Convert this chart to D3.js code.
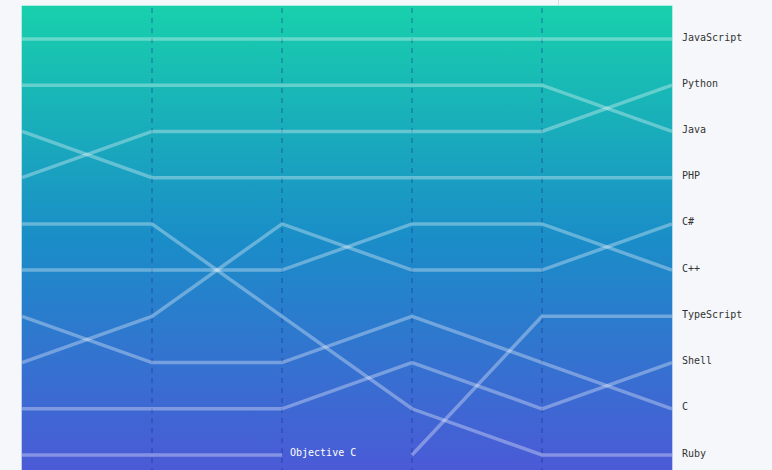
<!DOCTYPE html>
<html>
<head>
<meta charset="utf-8">
<script src="https://cdn.jsdelivr.net/npm/d3@7"></script>
<style>
  html, body { margin: 0; padding: 0; background: #f5f7fa; }
  svg { display: block; }
  .lang-label { font-family: "DejaVu Sans Mono", monospace; font-size: 10px; fill: #333; }
</style>
</head>
<body>
<svg id="chart"></svg>
<script>
// Octoverse style ranking, 1 = most used
const periods = ["2014", "2015", "2016", "2017", "2018", "2019"];
const languages = ["JavaScript", "Java", "Python", "PHP", "Ruby", "C++", "C#", "C", "Shell", "Objective C", "TypeScript"];
const javascriptRanks = [1, 1, 1, 1, 1, 1];
const javaRanks = [2, 2, 2, 2, 2, 3];
const pythonRanks = [4, 3, 3, 3, 3, 2];
const phpRanks = [3, 4, 4, 4, 4, 4];
const rubyRanks = [5, 5, 7, 9, 10, 10];
const cppRanks = [6, 6, 6, 5, 5, 6];
const csharpRanks = [8, 7, 5, 6, 6, 5];
const cRanks = [7, 8, 8, 7, 8, 9];
const shellRanks = [9, 9, 9, 8, 9, 8];
const objcRanks = [10, 10, 10, null, null, null];
const typescriptRanks = [null, null, null, 10, 7, 7];

const allRanks = [javascriptRanks, javaRanks, pythonRanks, phpRanks, rubyRanks, cppRanks,
    csharpRanks, cRanks, shellRanks, objcRanks, typescriptRanks];

const width = 772;
const height = 470;

const series = languages.map((name, i) => ({
    name: name,
    values: periods.map((p, j) => ({period: p, rank: allRanks[i][j]})).filter(d => d.rank !== null)
}));

const svg = d3.select("#chart")
    .attr("width", width)
    .attr("height", height);

const x = d3.scalePoint()
    .domain(periods)
    .range([22, 672]);

const y = d3.scaleLinear()
    .domain([1, 10])
    .range([39, 455]);

const defs = svg.append("defs");
const grad = defs.append("linearGradient")
    .attr("id", "bg-grad")
    .attr("x1", 0).attr("y1", 0)
    .attr("x2", 0).attr("y2", 1);
grad.append("stop").attr("offset", "0%").attr("stop-color", "#18d0ac");
grad.append("stop").attr("offset", "50%").attr("stop-color", "#1a8dc8");
grad.append("stop").attr("offset", "100%").attr("stop-color", "#4c59d7");

// little separator line above the panel
svg.append("line")
    .attr("x1", 558.5).attr("x2", 558.5)
    .attr("y1", 0).attr("y2", 5)
    .attr("stroke", "#d8dce2");

svg.append("rect")
    .attr("x", x.range()[0] - 0.5)
    .attr("y", 5.5)
    .attr("width", x.range()[1] - x.range()[0] + 1)
    .attr("height", height)
    .attr("fill", "url(#bg-grad)")
    .attr("stroke", "rgba(255,255,255,0.35)");

// dashed period guides (inner periods only)
svg.append("g")
    .selectAll("line")
    .data(periods.slice(1, -1))
    .join("line")
    .attr("x1", d => x(d)).attr("x2", d => x(d))
    .attr("y1", 8).attr("y2", height)
    .attr("stroke", "rgba(20,40,140,0.35)")
    .attr("stroke-width", 1.5)
    .attr("stroke-dasharray", "5,5");

const line = d3.line()
    .x(d => x(d.period))
    .y(d => y(d.rank));

svg.append("g")
    .attr("fill", "none")
    .attr("stroke", "#fff")
    .attr("stroke-opacity", 0.33)
    .attr("stroke-width", 3.5)
    .selectAll("path")
    .data(series)
    .join("path")
    .attr("d", d => line(d.values));

// labels for languages still ranked in the last period
const lastPeriod = periods[periods.length - 1];
svg.append("g")
    .selectAll("text")
    .data(series.filter(s => s.values[s.values.length - 1].period === lastPeriod))
    .join("text")
    .attr("class", "lang-label")
    .attr("x", x(lastPeriod) + 10)
    .attr("y", d => y(d.values[d.values.length - 1].rank))
    .attr("dy", ".15em")
    .text(d => d.name);

// labels for languages that dropped out
svg.append("g")
    .selectAll("text")
    .data(series.filter(s => s.values[s.values.length - 1].period !== lastPeriod))
    .join("text")
    .attr("class", "lang-label")
    .style("fill", "#fff")
    .attr("x", d => x(d.values[d.values.length - 1].period) + 8)
    .attr("y", d => y(d.values[d.values.length - 1].rank) - 3)
    .attr("dy", ".35em")
    .text(d => d.name);
</script>
</body>
</html>
